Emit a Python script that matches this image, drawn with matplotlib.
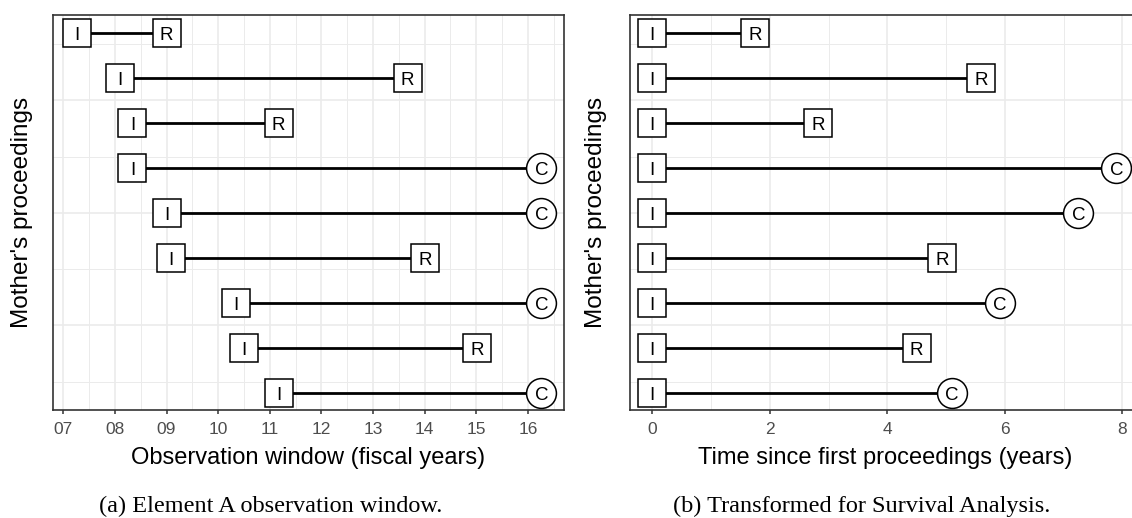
import numpy as np
import matplotlib
matplotlib.use("Agg")
import matplotlib.pyplot as plt

plt.rcParams['font.family'] = ['Liberation Sans', 'DejaVu Sans']

# one row per mother's proceedings, top to bottom
rows = [9, 8, 7, 6, 5, 4, 3, 2, 1]
start_fy = [7.26, 8.09, 8.34, 8.34, 9.00, 9.09, 10.34, 10.50, 11.18]
end_fy = [9.00, 13.67, 11.17, 16.26, 16.26, 14.01, 16.26, 15.01, 16.26]
outcome = ['R', 'R', 'R', 'C', 'C', 'R', 'C', 'R', 'C']
duration = [1.75, 5.59, 2.82, 7.90, 7.25, 4.93, 5.92, 4.50, 5.10]

left_ticks = [7, 8, 9, 10, 11, 12, 13, 14, 15, 16]
left_labels = ['07', '08', '09', '10', '11', '12', '13', '14', '15', '16']
right_ticks = [0, 2, 4, 6, 8]

W, H = 1132, 518
fig = plt.figure(figsize=(W / 100, H / 100), dpi=100)

GRID = '#EBEBEB'
BORDER = '#333333'
TICKTXT = '#4D4D4D'
LETTER = 13.5


def px(x0, y0, x1, y1):
    # pixel box -> figure fraction [left, bottom, width, height]
    return [x0 / W, 1 - y1 / H, (x1 - x0) / W, (y1 - y0) / H]


def letter(ax, x, y, s):
    # centre the capital on the point (baseline shifted down by half cap height)
    ax.annotate(s, (x, y), xytext=(0, -0.36 * LETTER), textcoords='offset points',
                ha='center', va='baseline', fontsize=LETTER, zorder=4)


def draw_panel(ax, x_start, x_end, outcome):
    for y, s, e, o in zip(rows, x_start, x_end, outcome):
        ax.plot([s, e], [y, y], color='black', lw=2.0, zorder=2, solid_capstyle='butt')
        ax.plot([s], [y], marker='s', ms=19.8, mfc='white', mec='black', mew=1.1, zorder=3)
        letter(ax, s, y, 'I')
        mk, ms = ('s', 19.8) if o == 'R' else ('o', 21.5)
        ax.plot([e], [y], marker=mk, ms=ms, mfc='white', mec='black', mew=1.1, zorder=3)
        letter(ax, e, y, o)

    ax.set_ylim(0.62, 9.4)
    ax.set_yticks([2.5, 5, 7.5])
    ax.set_yticks([1.25, 3.75, 6.25, 8.75], minor=True)
    ax.tick_params(axis='y', which='both', left=False, labelleft=False)
    ax.tick_params(axis='x', which='major', length=3, width=1.1, color=BORDER,
                   labelcolor=TICKTXT, labelsize=12.5, pad=6)
    ax.tick_params(axis='x', which='minor', length=0)
    ax.grid(True, which='major', color=GRID, lw=1.2, zorder=0)
    ax.grid(True, which='minor', color=GRID, lw=0.7, zorder=0)
    ax.set_axisbelow(True)
    for sp in ax.spines.values():
        sp.set_color(BORDER)
        sp.set_linewidth(1.2)


# (a) observation window in fiscal years
ax1 = fig.add_axes(px(53, 15, 564, 410))
draw_panel(ax1, start_fy, end_fy, outcome)
ax1.set_xlim(6.8, 16.7)
ax1.set_xticks(left_ticks)
ax1.set_xticklabels(left_labels)
ax1.set_xticks(np.arange(7.5, 16.6, 1.0), minor=True)

# (b) shifted so every proceeding starts at 0
ax2 = fig.add_axes(px(630, 15, 1140, 410))
draw_panel(ax2, [0] * len(rows), duration, outcome)
ax2.set_xlim(-0.38, 8.3)
ax2.set_xticks(right_ticks)
ax2.set_xticks([1, 3, 5, 7], minor=True)

# axis titles
fig.text(308 / W, 1 - 458 / H, 'Observation window (fiscal years)', ha='center', va='center', fontsize=17)
fig.text(885 / W, 1 - 458 / H, 'Time since first proceedings (years)', ha='center', va='center', fontsize=17)
fig.text(22 / W, 1 - 212 / H, "Mother's proceedings", rotation=90, ha='center', va='center', fontsize=17.5)
fig.text(596 / W, 1 - 212 / H, "Mother's proceedings", rotation=90, ha='center', va='center', fontsize=17.5)

# sub-captions
cap = dict(ha='center', va='center', fontsize=17.5, family=['Liberation Serif', 'DejaVu Serif'])
fig.text(271 / W, 1 - 506 / H, '(a) Element A observation window.', **cap)
fig.text(862 / W, 1 - 506 / H, '(b) Transformed for Survival Analysis.', **cap)

fig.savefig('out.png', dpi=100)
